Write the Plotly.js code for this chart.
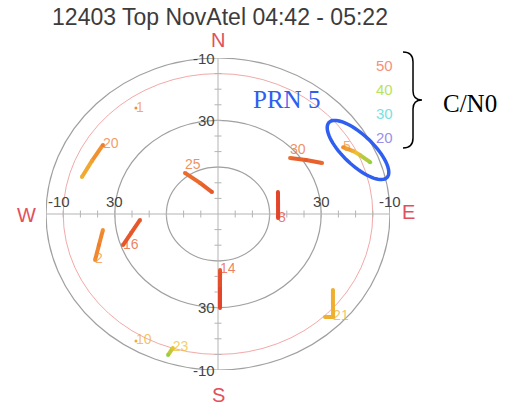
<!DOCTYPE html>
<html><head><meta charset="utf-8">
<script src="https://cdn.plot.ly/plotly-3.0.1.min.js"></script>
<style>html,body{margin:0;padding:0;background:#fff}</style>
</head><body><div id="chart" style="width:506px;height:405px"></div>
<script>
// ---- Data: satellite tracks (azimuth deg, elevation deg, C/N0 dB-Hz) ----
const prnList = ['1','2','5','8','10','14','16','20','21','23','25','30'];
const az1  = [324.9];               const el1  = [7.0];              const cn1  = [46];
const az2  = [247.6, 254.0, 261.3]; const el2  = [12.7, 18.0, 22.3]; const cn2  = [46, 47, 46];
const az5  = [59.5, 62.8, 65.4, 69.4]; const el5 = [5.6, 1.7, -0.8, -4.5]; const cn5 = [46, 44, 42, 40];
const az8  = [94.3, 80.6, 68.0];    const el8  = [55.0, 54.6, 52.4]; const cn8  = [50, 50, 50];
const az10 = [210.4];               const el10 = [-4.3];             const cn10 = [44];
const az14 = [178.1, 178.6, 178.9]; const el14 = [54.1, 41.9, 29.7]; const cn14 = [49, 50, 50];
const az16 = [250.2, 256.4, 265.2]; const el16 = [31.3, 38.0, 44.5]; const cn16 = [49, 49, 49];
const az20 = [303.5, 294.9, 286.7]; const el20 = [9.8, 9.2, 7.4];    const cn20 = [47, 45, 44];
const az21 = [136.7, 134.6, 130.5, 126.1]; const el21 = [-0.7, -4.0, 2.1, 7.3]; const cn21 = [44, 44, 44, 44];
const az23 = [197.0, 197.8];        const el23 = [0.2, -5.0];        const cn23 = [43, 40];
const az25 = [323.9, 332.2, 346.1]; const el25 = [57.4, 67.5, 75.5]; const cn25 = [48, 48, 49];
const az30 = [49.4, 55.9, 61.6];    const el30 = [34.8, 28.2, 21.2]; const cn30 = [48, 49, 48];
const labelIdx = [0, 0, 0, 0, 0, 0, 0, 0, 1, 0, 0, 0];
const labelPos = ['middle right','middle right','middle right','middle right','middle right','middle right',
                  'middle right','middle right','middle right','middle right','top right','top right'];

// C/N0 colour scale and legend
const cnStops  = [20, 30, 40, 43, 46, 50];
const cnColors = [[140,128,230],[92,216,224],[150,208,64],[236,192,48],[242,144,48],[226,69,42]];
const legendVals = [50, 40, 30, 20];
const legendColors = ['#f4917c', '#b9e35a', '#78e2e2', '#9a90ea'];

// elevation rings (deg) and axis tick labels
const ringEl = [-10, 0, 30, 60];
const ringLabelEl = [-10, 30];
const axisTickEl = [0, 10, 20, 30, 40, 50, 60, 70, 80];

const azArr = [az1,az2,az5,az8,az10,az14,az16,az20,az21,az23,az25,az30];
const elArr = [el1,el2,el5,el8,el10,el14,el16,el20,el21,el23,el25,el30];
const cnArr = [cn1,cn2,cn5,cn8,cn10,cn14,cn16,cn20,cn21,cn23,cn25,cn30];

function cnColor(v, a) {
  let i = 0;
  while (i < cnStops.length - 2 && v > cnStops[i + 1]) i++;
  let t = (v - cnStops[i]) / (cnStops[i + 1] - cnStops[i]);
  t = Math.max(0, Math.min(1, t));
  const c0 = cnColors[i], c1 = cnColors[i + 1];
  const c = c0.map((c, k) => Math.round(c + (c1[k] - c) * t));
  return a === undefined ? `rgb(${c[0]},${c[1]},${c[2]})` : `rgba(${c[0]},${c[1]},${c[2]},${a})`;
}
const R = el => 90 - el;
const toX = (az, el) => R(el) * Math.sin(az * Math.PI / 180);
const toY = (az, el) => R(el) * Math.cos(az * Math.PI / 180);

// plot area geometry (pixels) for decorative items
const W = 506, H = 405, ML = 46, MR = 116, MT = 58, MB = 35;
const PW = W - ML - MR, PH = H - MT - MB;
const px = x => (x - ML) / PW;
const py = y => (H - MB - y) / PH;

const traces = [];
// axis tick marks
traces.push({
  x: axisTickEl.flatMap(e => [R(e), -R(e)]).concat(axisTickEl.flatMap(() => [0, 0])),
  y: axisTickEl.flatMap(() => [0, 0]).concat(axisTickEl.flatMap(e => [R(e), -R(e)])),
  mode: 'markers', hoverinfo: 'skip',
  marker: {
    symbol: axisTickEl.flatMap(() => ['line-ns', 'line-ns']).concat(axisTickEl.flatMap(() => ['line-ew', 'line-ew'])),
    size: 5, line: {color: '#b4b4b4', width: 1}
  }
});

prnList.forEach((p, s) => {
  const az = azArr[s], el = elArr[s], cn = cnArr[s];
  const X = az.map((a, i) => toX(a, el[i]));
  const Y = az.map((a, i) => toY(a, el[i]));
  for (let i = 0; i < X.length - 1; i++) {
    traces.push({x: [X[i], X[i + 1]], y: [Y[i], Y[i + 1]], mode: 'lines', hoverinfo: 'skip',
      line: {color: cnColor((cn[i] + cn[i + 1]) / 2), width: 4}});
  }
  traces.push({x: X, y: Y, mode: 'markers', hoverinfo: 'skip',
    marker: {size: X.length > 1 ? 4 : 3, color: cn.map(v => cnColor(v))}});
  const li = labelIdx[s];
  traces.push({x: [X[li]], y: [Y[li]], mode: 'text', text: [p], hoverinfo: 'skip',
    textposition: labelPos[s], marker: {size: 2},
    textfont: {family: 'Liberation Sans, Arial, sans-serif', size: 14, color: cnColor(cn[li], 0.75)}});
});

const shapes = [];
ringEl.forEach(e => {
  shapes.push({type: 'circle', xref: 'x', yref: 'y', x0: -R(e), x1: R(e), y0: -R(e), y1: R(e),
    line: {color: e === 0 ? '#f2a9a9' : '#a0a0a0', width: e === 0 ? 1 : 1.2}, layer: 'below'});
});
const Rmax = R(ringEl[0]);
shapes.push({type: 'line', xref: 'x', yref: 'y', x0: -Rmax, x1: Rmax, y0: 0, y1: 0, line: {color: '#b4b4b4', width: 1}, layer: 'below'});
shapes.push({type: 'line', xref: 'x', yref: 'y', x0: 0, x1: 0, y0: -Rmax, y1: Rmax, line: {color: '#b4b4b4', width: 1}, layer: 'below'});

// blue highlight ellipse around PRN 5
(function () {
  const cx = 358, cy = 150, a = 40, b = 15, th = 43.5 * Math.PI / 180;
  let d = '';
  for (let k = 0; k <= 72; k++) {
    const t = k / 72 * 2 * Math.PI;
    const x = cx + a * Math.cos(t) * Math.cos(th) - b * Math.sin(t) * Math.sin(th);
    const y = cy + a * Math.cos(t) * Math.sin(th) + b * Math.sin(t) * Math.cos(th);
    d += (k ? ' L ' : 'M ') + px(x).toFixed(4) + ',' + py(y).toFixed(4);
  }
  shapes.push({type: 'path', xref: 'paper', yref: 'paper', path: d + ' Z', line: {color: '#2f5ef0', width: 3.5}});
})();
// brace
(function () {
  const P = (x, y) => px(x).toFixed(4) + ',' + py(y).toFixed(4);
  const d = `M ${P(403,52)} Q ${P(413,52)} ${P(413,62)} L ${P(413,91)} Q ${P(413,100)} ${P(422,100)} ` +
            `Q ${P(413,100)} ${P(413,109)} L ${P(413,138)} Q ${P(413,148)} ${P(403,148)}`;
  shapes.push({type: 'path', xref: 'paper', yref: 'paper', path: d, line: {color: '#000', width: 1.5}});
})();

const tickFont = {family: 'Liberation Sans, Arial, sans-serif', size: 15, color: '#444'};
const annotations = [];
ringLabelEl.forEach(e => {
  annotations.push({x: 0, y: R(e), xref: 'x', yref: 'y', text: String(e), showarrow: false, xanchor: 'right', yanchor: 'middle', xshift: -1, font: tickFont});
  annotations.push({x: 0, y: -R(e), xref: 'x', yref: 'y', text: String(e), showarrow: false, xanchor: 'right', yanchor: 'middle', xshift: -1, font: tickFont});
  annotations.push({x: -R(e), y: 0, xref: 'x', yref: 'y', text: String(e), showarrow: false, xanchor: e < 0 ? 'left' : 'center', yanchor: 'bottom', yshift: 2, font: tickFont});
  annotations.push({x: R(e), y: 0, xref: 'x', yref: 'y', text: String(e), showarrow: false, xanchor: 'center', yanchor: 'bottom', yshift: 2, font: tickFont});
});
const dirFont = {family: 'Liberation Sans, Arial, sans-serif', size: 20, color: '#e2505c'};
[['N', 218, 40], ['W', 26, 215], ['E', 408, 212], ['S', 218, 395]].forEach(([t, x, y]) => {
  annotations.push({x: px(x), y: py(y), xref: 'paper', yref: 'paper', text: t, showarrow: false, xanchor: 'center', yanchor: 'middle', font: dirFont});
});
const legY = [65, 90, 113, 137];
legendVals.forEach((v, i) => {
  annotations.push({x: px(384), y: py(legY[i]), xref: 'paper', yref: 'paper', text: String(v), showarrow: false,
    xanchor: 'center', yanchor: 'middle', font: {family: 'Liberation Sans, Arial, sans-serif', size: 15, color: legendColors[i]}});
});
annotations.push({x: px(286), y: py(100), xref: 'paper', yref: 'paper', text: 'PRN 5', showarrow: false, xanchor: 'center', yanchor: 'middle',
  font: {family: 'Liberation Serif, Times New Roman, serif', size: 25, color: '#2f5ef0'}});
annotations.push({x: px(470), y: py(103), xref: 'paper', yref: 'paper', text: 'C/N0', showarrow: false, xanchor: 'center', yanchor: 'middle',
  font: {family: 'Liberation Serif, Times New Roman, serif', size: 25, color: '#000'}});

const layout = {
  width: W, height: H,
  margin: {l: ML, r: MR, t: MT, b: MB},
  paper_bgcolor: '#fff', plot_bgcolor: '#fff',
  title: {text: '12403 Top NovAtel 04:42 - 05:22', x: 220 / W, xanchor: 'center', xref: 'container',
    y: 1 - 17 / H, yanchor: 'middle', yref: 'container',
    font: {family: 'Liberation Sans, Arial, sans-serif', size: 23, color: '#3c3c3c'}},
  xaxis: {range: [-Rmax, Rmax], visible: false, fixedrange: true},
  yaxis: {range: [-Rmax, Rmax], visible: false, fixedrange: true},
  showlegend: false, hovermode: false,
  shapes: shapes, annotations: annotations
};
Plotly.newPlot('chart', traces, layout, {staticPlot: true, displayModeBar: false});
</script></body></html>
